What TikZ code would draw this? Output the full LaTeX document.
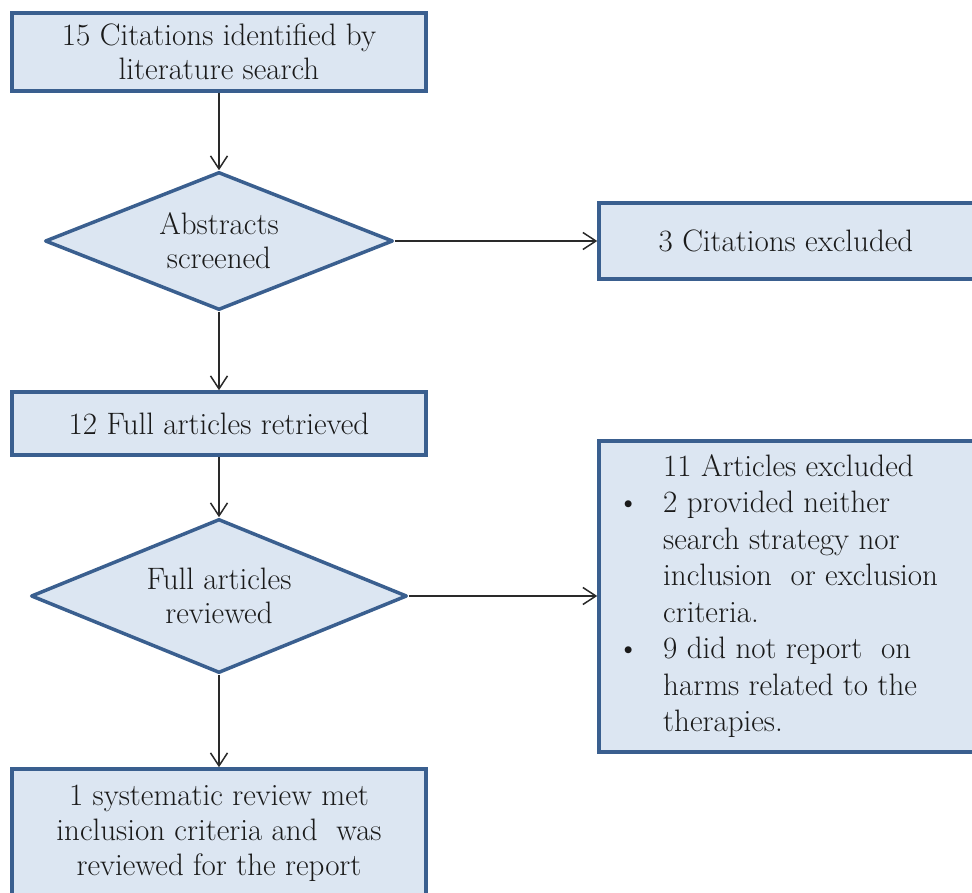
\documentclass[tikz,border=0pt]{standalone}
\usepackage{times}
\usetikzlibrary{shapes.geometric,arrows.meta}

\definecolor{boxfill}{HTML}{DCE6F2}
\definecolor{boxline}{HTML}{3A5F8F}
\definecolor{ink}{HTML}{1A1A1A}
\definecolor{arrowink}{HTML}{2A2A2A}

\tikzset{
  stepbox/.style={rectangle, draw=boxline, fill=boxfill, line width=3.5pt,
    inner sep=0pt, text=ink, align=center,
    font=\fontsize{31pt}{34pt}\selectfont},
  decision/.style={diamond, draw=boxline, fill=boxfill, line width=3.5pt,
    line join=round, inner sep=0pt, text=ink, align=center,
    font=\fontsize{31pt}{34pt}\selectfont},
  plaintext/.style={inner sep=0pt, text=ink, align=center,
    font=\fontsize{31pt}{35pt}\selectfont},
  flow/.style={draw=arrowink, line width=1.5pt,
    -{Straight Barb[length=13pt,width=17pt,line width=1.5pt]}},
}

\begin{document}
\begin{tikzpicture}[x=1pt, y=-1pt]
  \useasboundingbox (0,0) rectangle (972,893);
  \clip (0,0) rectangle (972,893);

  % main column
  \node[stepbox, minimum width=414pt, minimum height=78pt] (cites) at (219,52)
    {15 Citations identified by\\literature search};
  \node[decision, minimum width=348pt, minimum height=138pt, shape aspect=2.5] (abs) at (219,241)
    {Abstracts\\screened};
  \node[stepbox, minimum width=414pt, minimum height=63pt] (full) at (219,423.5)
    {12 Full articles retrieved};
  \node[decision, minimum width=376pt, minimum height=154pt, shape aspect=2.45] (rev) at (219,596)
    {Full articles\\reviewed};
  \node[stepbox, minimum width=414pt, minimum height=181pt] (final) at (219,859.5) {};
  \node[plaintext] (finaltext) at (219,833)
    {1 systematic review met\\inclusion criteria and\ \ was\\reviewed for the report};

  % exclusion column
  \node[stepbox, minimum width=401pt, minimum height=76pt] (excl) at (799.5,241)
    {\hspace*{-27pt}3 Citations excluded};
  \node[stepbox, minimum width=401pt, minimum height=311pt] (artexcl) at (799.5,596.5) {};
  \node[plaintext, align=left, anchor=west, font=\fontsize{31pt}{36.5pt}\selectfont] (artlist) at (617,596)
    {\hspace*{46pt}11 Articles excluded\\
     \makebox[46pt][l]{\textbullet}2 provided neither\\
     \hspace*{46pt}search strategy nor\\
     \hspace*{46pt}inclusion\ \ or exclusion\\
     \hspace*{46pt}criteria.\\
     \makebox[46pt][l]{\textbullet}9 did not report\ \ on\\
     \hspace*{46pt}harms related to the\\
     \hspace*{46pt}therapies.};

  % connectors
  \draw[flow] (cites.south) -- (abs.north);
  \draw[flow] (abs.south) -- (full.north);
  \draw[flow] (full.south) -- (rev.north);
  \draw[flow] (rev.south) -- (final.north);
  \draw[flow] (abs.east) -- (abs.east -| excl.west);
  \draw[flow] (rev.east) -- (rev.east -| artexcl.west);
\end{tikzpicture}
\end{document}
